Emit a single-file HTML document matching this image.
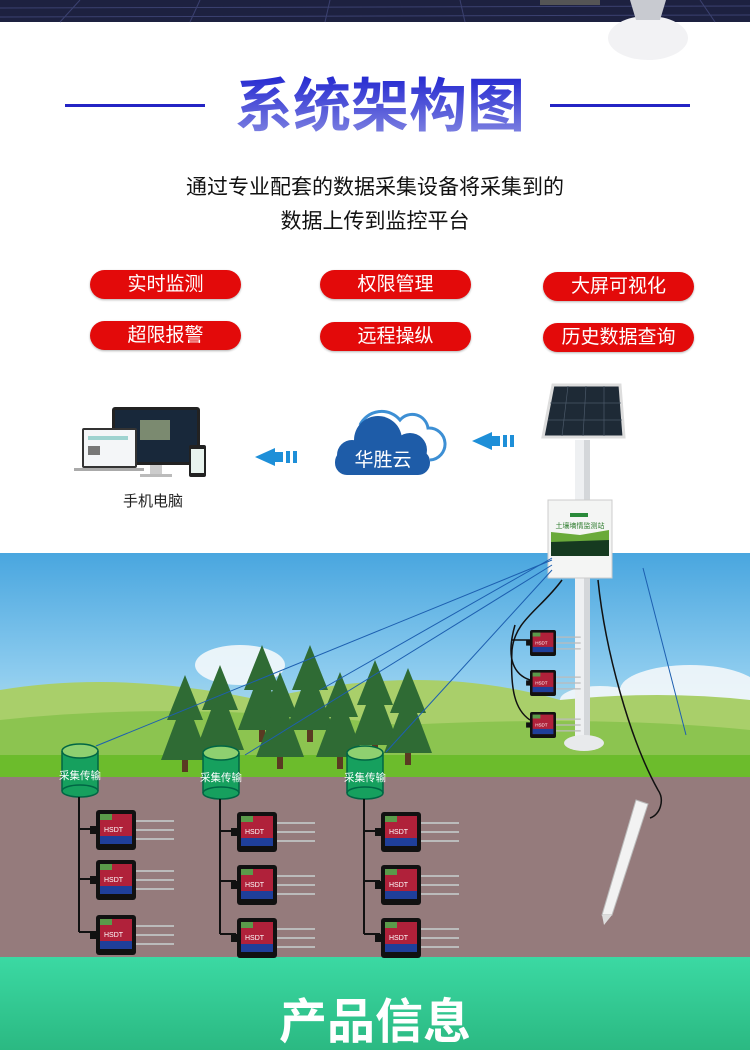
<!DOCTYPE html>
<html><head><meta charset="utf-8"><style>
html,body{margin:0;padding:0;}
body{width:750px;height:1050px;position:relative;overflow:hidden;background:#fff;font-family:"Liberation Sans","Noto Sans CJK SC",sans-serif;}
.abs{position:absolute;}
.pill{position:absolute;width:151px;height:29px;border-radius:15px;background:#e30a0a;color:#fff;font-size:19px;line-height:29px;text-align:center;box-shadow:0 1px 2px rgba(0,0,0,.3);}
</style></head><body>
<svg class="abs" style="left:0;top:0" width="750" height="1050" viewBox="0 0 750 1050">
<defs>
<linearGradient id="sky" x1="0" y1="0" x2="0" y2="1"><stop offset="0" stop-color="#49a6df"/><stop offset=".55" stop-color="#8fcdef"/><stop offset="1" stop-color="#d8ecd8"/></linearGradient>
<linearGradient id="grn" x1="0" y1="0" x2="0" y2="1"><stop offset="0" stop-color="#3bd9a3"/><stop offset="1" stop-color="#2bb982"/></linearGradient>
<linearGradient id="ttl" x1="0" y1="0" x2="0" y2="1"><stop offset="0" stop-color="#2226d0"/><stop offset="1" stop-color="#8488e2"/></linearGradient>
<g id="sensor">
<rect x="0" y="0" width="40" height="40" rx="3" fill="#111"/>
<rect x="4" y="4" width="32" height="30" fill="#b0213a"/>
<rect x="4" y="4" width="12" height="6" fill="#5a9a4a"/>
<rect x="4" y="26" width="32" height="8" fill="#1f3f9a"/>
<text x="8" y="22" font-size="7" fill="#fff" font-family="Liberation Sans">HSDT</text>
<line x1="40" y1="11" x2="78" y2="11" stroke="#bbb" stroke-width="2"/>
<line x1="40" y1="20" x2="78" y2="20" stroke="#bbb" stroke-width="2"/>
<line x1="40" y1="29" x2="78" y2="29" stroke="#bbb" stroke-width="2"/>
<rect x="-6" y="16" width="7" height="8" fill="#111"/>
</g>
<g id="tree"><polygon points="0,-80 -18,-35 -9,-35 -24,5 24,5 9,-35 18,-35" fill="#2f6b34"/><rect x="-3" y="5" width="6" height="12" fill="#5a3a22"/></g>
</defs>
<rect x="0" y="0" width="750" height="22" fill="#1d2140"/>
<g stroke="#3b4170" stroke-width="1"><line x1="0" y1="8" x2="750" y2="6"/><line x1="0" y1="17" x2="750" y2="15"/><line x1="80" y1="0" x2="60" y2="22"/><line x1="200" y1="0" x2="190" y2="22"/><line x1="330" y1="0" x2="325" y2="22"/><line x1="460" y1="0" x2="465" y2="22"/><line x1="700" y1="0" x2="715" y2="22"/></g>
<rect x="540" y="0" width="60" height="5" fill="#555"/>
<ellipse cx="648" cy="38" rx="40" ry="22" fill="#f2f2f4"/>
<polygon points="630,0 666,0 660,20 636,20" fill="#c8cad0"/>
<rect x="65" y="104" width="140" height="3" fill="#2424c4"/>
<rect x="550" y="104" width="140" height="3" fill="#2424c4"/>
<text x="380" y="126" text-anchor="middle" font-size="58" font-weight="bold" fill="url(#ttl)" font-family="Liberation Sans,Noto Sans CJK SC,sans-serif">系统架构图</text>
<!-- devices -->
<rect x="112" y="407" width="88" height="58" rx="3" fill="#222"/>
<rect x="115" y="410" width="82" height="52" fill="#18283a"/>
<rect x="140" y="420" width="30" height="20" fill="#7b8a70"/>
<rect x="150" y="465" width="12" height="10" fill="#ccc"/><rect x="140" y="474" width="32" height="3" fill="#bbb"/>
<rect x="82" y="428" width="55" height="40" rx="2" fill="#333"/>
<rect x="84" y="430" width="51" height="36" fill="#f4f6f8"/>
<rect x="88" y="436" width="40" height="4" fill="#9ed3d0"/>
<rect x="88" y="446" width="12" height="9" fill="#777"/>
<rect x="74" y="468" width="70" height="3" fill="#aaa"/>
<rect x="189" y="445" width="17" height="32" rx="2" fill="#222"/><rect x="191" y="449" width="13" height="24" fill="#e8f3ee"/>
<!-- arrows -->
<polygon points="255,457 275,448 275,466" fill="#1e8fd8"/><rect x="275" y="452" width="8" height="10" fill="#1e8fd8"/><rect x="286" y="451" width="4" height="12" fill="#1e8fd8"/><rect x="293" y="451" width="4" height="12" fill="#1e8fd8"/>
<polygon points="472,441 492,432 492,450" fill="#1e8fd8"/><rect x="492" y="436" width="8" height="10" fill="#1e8fd8"/><rect x="503" y="435" width="4" height="12" fill="#1e8fd8"/><rect x="510" y="435" width="4" height="12" fill="#1e8fd8"/>
<!-- cloud -->
<g fill="none" stroke="#3d8fd4" stroke-width="3"><path d="M360,425 a24,24 0 0 1 40,-5 a16,16 0 0 1 28,8 a16,16 0 0 1 2,32"/></g>
<g fill="#1e5ca8"><circle cx="378" cy="440" r="24"/><circle cx="352" cy="455" r="15"/><circle cx="410" cy="450" r="17"/><rect x="335" y="450" width="95" height="25" rx="12"/></g>
<text x="383" y="466" text-anchor="middle" font-size="19" fill="#fff" font-family="Liberation Sans,Noto Sans CJK SC,sans-serif">华胜云</text>
<!-- sky -->
<rect x="0" y="553" width="750" height="225" fill="url(#sky)"/>
<g fill="#f4f8fb" opacity=".9"><ellipse cx="240" cy="665" rx="45" ry="20"/><ellipse cx="690" cy="690" rx="70" ry="25"/><ellipse cx="600" cy="700" rx="40" ry="14"/></g>
<path d="M0,690 Q120,670 260,700 Q420,660 560,700 Q660,690 750,700 L750,778 L0,778Z" fill="#a9cf6a"/>
<path d="M0,720 Q180,700 400,725 Q600,715 750,730 L750,778 L0,778Z" fill="#8cc450"/>
<rect x="0" y="755" width="750" height="22" fill="#6cbc2c"/>
<use href="#tree" x="262" y="725"/><use href="#tree" x="310" y="725"/><use href="#tree" x="220" y="745"/><use href="#tree" x="280" y="752"/><use href="#tree" x="375" y="740"/><use href="#tree" x="408" y="748"/><use href="#tree" x="340" y="752"/><use href="#tree" x="185" y="755"/>
<!-- ground -->
<rect x="0" y="777" width="750" height="180" fill="#957b7c"/>
<rect x="0" y="957" width="750" height="93" fill="url(#grn)"/>
<text x="375" y="1038" text-anchor="middle" font-size="48" font-weight="bold" fill="#fff" font-family="Liberation Sans,Noto Sans CJK SC,sans-serif">产品信息</text>
<!-- station -->
<polygon points="553,385 620,385 624,437 543,437" fill="#1e2a36" stroke="#ddd" stroke-width="3"/>
<g stroke="#4a5868" stroke-width="0.7"><line x1="568" y1="386" x2="562" y2="436"/><line x1="586" y1="386" x2="583" y2="436"/><line x1="604" y1="386" x2="604" y2="436"/><line x1="550" y1="403" x2="621" y2="403"/><line x1="548" y1="420" x2="622" y2="420"/></g>
<rect x="575" y="440" width="15" height="305" fill="#eef0f2"/>
<rect x="584" y="440" width="6" height="305" fill="#d4d7da"/>
<ellipse cx="584" cy="743" rx="20" ry="8" fill="#e8eaec"/>
<rect x="548" y="500" width="64" height="78" fill="#f4f5f4" stroke="#ccc"/>
<rect x="551" y="540" width="58" height="16" fill="#163a20"/>
<polygon points="551,532 580,535 609,530 609,540 551,542" fill="#6aaa3a"/>
<rect x="570" y="513" width="18" height="4" fill="#2a8a3a"/>
<text x="580" y="528" text-anchor="middle" font-size="7" fill="#2a7a2a" font-family="Noto Sans CJK SC,sans-serif">土壤墒情监测站</text>
<g fill="none" stroke="#111" stroke-width="1.5"><path d="M562,580 C540,610 515,620 512,650 C510,690 515,710 530,720"/><path d="M515,625 C505,660 515,675 530,680"/><path d="M512,640 C510,640 520,640 530,640"/><path d="M598,580 C605,650 630,740 658,790 C665,800 660,815 650,818"/></g>
<g transform="translate(530,630) scale(0.65)"><use href="#sensor"/></g>
<g transform="translate(530,670) scale(0.65)"><use href="#sensor"/></g>
<g transform="translate(530,712) scale(0.65)"><use href="#sensor"/></g>
<polygon points="636,800 648,804 612,915 602,915" fill="#f2f2f2" stroke="#bbb"/>
<polygon points="602,915 612,915 604,925" fill="#ddd"/>
<g stroke="#1d5fb0" stroke-width="1"><line x1="552" y1="560" x2="96" y2="746"/><line x1="552" y1="565" x2="245" y2="755"/><line x1="552" y1="570" x2="386" y2="752"/><line x1="552" y1="558" x2="320" y2="690"/><line x1="643" y1="568" x2="686" y2="735"/></g>
<g id="col">
<rect x="62" y="751" width="36" height="40" fill="#16a05e"/>
<ellipse cx="80" cy="791" rx="18" ry="6" fill="#16a05e" stroke="#064" stroke-width="1.5"/>
<ellipse cx="80" cy="751" rx="18" ry="7" fill="#8ed070" stroke="#064" stroke-width="1.5"/>
<line x1="62" y1="751" x2="62" y2="791" stroke="#064" stroke-width="1.5"/><line x1="98" y1="751" x2="98" y2="791" stroke="#064" stroke-width="1.5"/>
<text x="80" y="779" text-anchor="middle" font-size="10.5" fill="#fff" font-family="Noto Sans CJK SC,sans-serif">采集传输</text>
<path d="M79,797 V932 M79,829 H95 M79,879 H95 M79,932 H95" stroke="#111" stroke-width="2" fill="none"/>
</g>
<use href="#col" x="141" y="2"/><use href="#col" x="285" y="2"/>
<use href="#sensor" x="96" y="810"/><use href="#sensor" x="96" y="860"/><use href="#sensor" x="96" y="915"/>
<use href="#sensor" x="237" y="812"/><use href="#sensor" x="237" y="865"/><use href="#sensor" x="237" y="918"/>
<use href="#sensor" x="381" y="812"/><use href="#sensor" x="381" y="865"/><use href="#sensor" x="381" y="918"/>
</svg>
<div class="abs" style="left:0;top:171px;width:750px;text-align:center;font-size:21px;line-height:34px;color:#111;">通过专业配套的数据采集设备将采集到的<br>数据上传到监控平台</div>
<div class="pill" style="left:90px;top:270px">实时监测</div>
<div class="pill" style="left:320px;top:270px">权限管理</div>
<div class="pill" style="left:543px;top:272px">大屏可视化</div>
<div class="pill" style="left:90px;top:321px">超限报警</div>
<div class="pill" style="left:320px;top:322px">远程操纵</div>
<div class="pill" style="left:543px;top:323px">历史数据查询</div>
<div class="abs" style="left:100px;top:490px;width:106px;text-align:center;font-size:15px;color:#222;">手机电脑</div>
</body></html>
